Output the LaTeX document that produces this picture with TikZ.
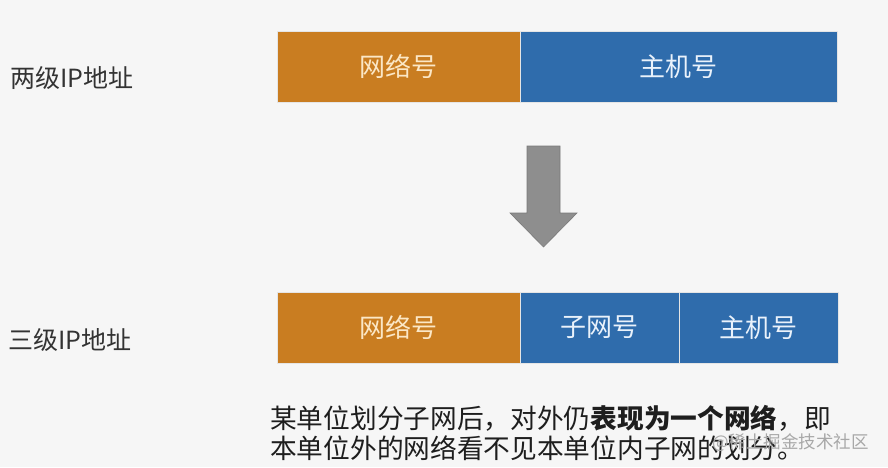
\documentclass[tikz,border=0pt]{standalone}
\usepackage{fontspec}
\setmainfont{Noto Sans CJK SC}
\newfontfamily\cjk{Noto Sans CJK SC}
\definecolor{bgc}{HTML}{F6F6F6}
\definecolor{netorange}{HTML}{C97D21}
\definecolor{hostblue}{HTML}{2F6CAC}
\definecolor{arrowgray}{HTML}{8E8E8E}
\definecolor{arrowedge}{HTML}{7A7A7A}
\definecolor{labelgray}{HTML}{333333}
\definecolor{textdark}{HTML}{1E1E1E}
\definecolor{cream}{HTML}{FBE7C6}
\definecolor{paleblue}{HTML}{EAF2FB}
\definecolor{wmgray}{HTML}{A8A8A8}
\tikzset{
  bar/.style={rectangle, anchor=north west, minimum height=71pt, inner sep=0pt, outer sep=0pt,
    draw=white!80!gray, line width=0.6pt, font=\cjk\fontsize{26}{30}\selectfont},
  netbar/.style={bar, fill=netorange, text=cream},
  hostbar/.style={bar, fill=hostblue, text=paleblue},
  sidelabel/.style={anchor=west, inner sep=0pt, text=labelgray, font=\cjk\fontsize{25}{29}\selectfont},
  note/.style={anchor=west, inner sep=0pt, text=textdark, font=\cjk\fontsize{26.7}{30}\selectfont},
  wmark/.style={anchor=west, inner sep=0pt, text=wmgray, font=\cjk\fontsize{17.5}{20}\selectfont}
}
\begin{document}
\begin{tikzpicture}[x=1pt,y=-1pt]
\fill[bgc] (0,0) rectangle (888,467);
\useasboundingbox (0,0) rectangle (888,467);
% two-level
\node[sidelabel] (l1) at (10,78) {两级IP地址};
\node[netbar, minimum width=243pt] (n1) at (277,31) {网络号};
\node[hostbar, minimum width=317pt] (h1) at (520,31) {主机号};
% arrow
\filldraw[fill=arrowgray, draw=arrowedge, line width=0.6pt]
  (527,146) -- (560,146) -- (560,213) -- (577,213) -- (543.5,247) -- (510,213) -- (527,213) -- cycle;
% three-level
\node[sidelabel] (l2) at (8,340) {三级IP地址};
\node[netbar, minimum width=243pt] (n2) at (277,292) {网络号};
\node[hostbar, minimum width=159pt] (s2) at (520,292) {子网号};
\node[hostbar, minimum width=159pt] (h2) at (679,292) {主机号};
% note
\node[note] (t1) at (270,418.5) {某单位划分子网后，对外仍\textbf{表现为一个网络}，即};
\node[note] (t2) at (270,448.5) {本单位外的网络看不见本单位内子网的划分。};
\node[wmark] (wm) at (712,443) {@稀土掘金技术社区};
\end{tikzpicture}
\end{document}
